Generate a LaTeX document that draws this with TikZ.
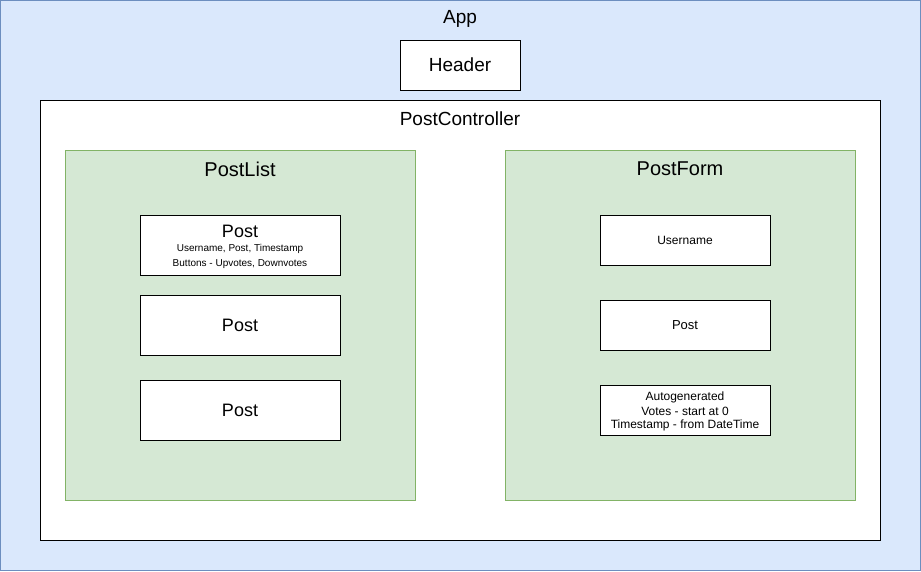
\documentclass[tikz,border=0pt]{standalone}
\usepackage{fontspec}
\setmainfont{Liberation Sans}
\definecolor{bluefill}{HTML}{DAE8FC}
\definecolor{bluedraw}{HTML}{6C8EBF}
\definecolor{greenfill}{HTML}{D5E8D4}
\definecolor{greendraw}{HTML}{82B366}
\tikzset{
  whitebox/.style={draw=black, fill=white, line width=1pt},
  greenbox/.style={draw=greendraw, fill=greenfill, line width=1pt},
  lbl/.style={inner sep=0pt, anchor=center},
}
\newcommand{\fs}[1]{\fontsize{#1}{#1}\selectfont}
\begin{document}
\begin{tikzpicture}[x=1pt,y=-1pt]
\useasboundingbox (0,0) rectangle (921,571);
% App
\draw[draw=bluedraw, fill=bluefill, line width=1pt] (0.5,0.5) rectangle (920.5,570.5);
\node[lbl] (app) at (460,19) {\fs{19}App};
% Header
\draw[whitebox] (400,40) rectangle (520,90);
\node[lbl] (header) at (460,65) {\fs{19}Header};
% PostController
\draw[whitebox] (40,100) rectangle (880,540);
\node[lbl] (pc) at (460,119) {\fs{19}PostController};
% PostList
\draw[greenbox] (65,150) rectangle (415,500);
\node[lbl] (plist) at (240,169) {\fs{20}PostList};
% PostForm
\draw[greenbox] (505,150) rectangle (855,500);
\node[lbl] (pform) at (680,169) {\fs{20}PostForm};
% Post boxes
\draw[whitebox] (140,215) rectangle (340,275);
\node[lbl] (p1) at (240,231) {\fs{18}Post};
\node[lbl] (p1a) at (240,249) {\fs{10}Username, Post, Timestamp};
\node[lbl] (p1b) at (240,264) {\fs{10}Buttons - Upvotes, Downvotes};
\draw[whitebox] (140,295) rectangle (340,355);
\node[lbl] (p2) at (240,325) {\fs{18}Post};
\draw[whitebox] (140,380) rectangle (340,440);
\node[lbl] (p3) at (240,410) {\fs{18}Post};
% Form fields
\draw[whitebox] (600,215) rectangle (770,265);
\node[lbl] (user) at (685,240) {\fs{12}Username};
\draw[whitebox] (600,300) rectangle (770,350);
\node[lbl] (fpost) at (685,325) {\fs{13}Post};
\draw[whitebox] (600,385) rectangle (770,435);
\node[lbl] (auto1) at (685,397) {\fs{12}Autogenerated};
\node[lbl] (auto2) at (685,411) {\fs{12}Votes - start at 0};
\node[lbl] (auto3) at (685,425) {\fs{12}Timestamp - from DateTime};
\end{tikzpicture}
\end{document}
